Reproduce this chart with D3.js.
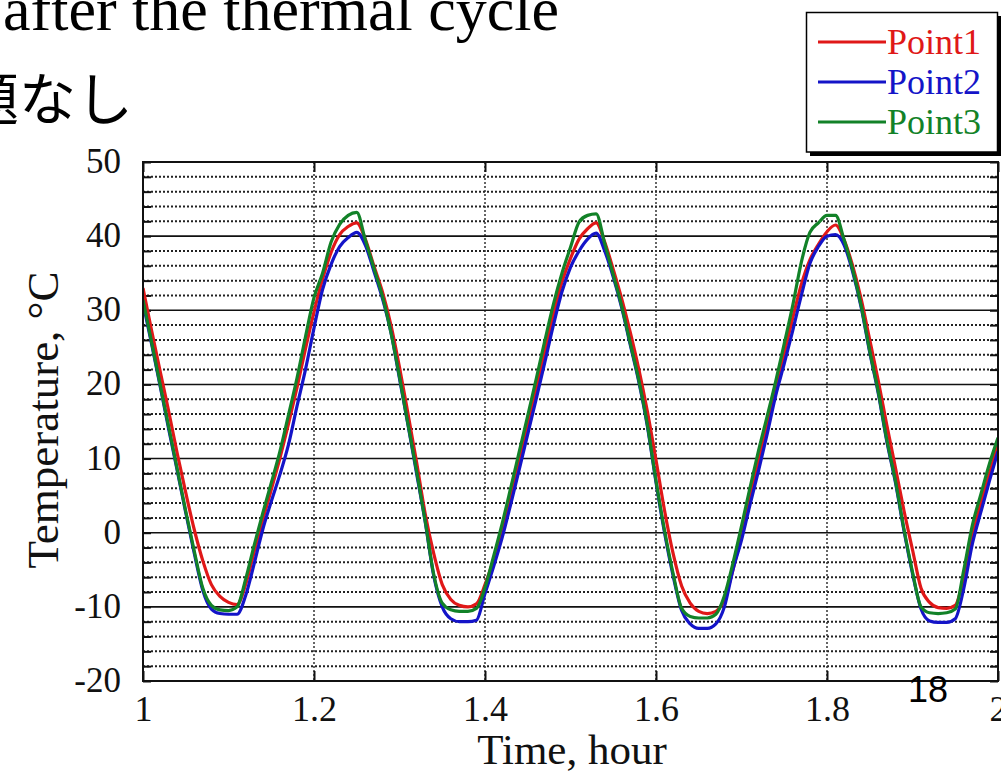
<!DOCTYPE html>
<html><head><meta charset="utf-8">
<script src="https://cdn.jsdelivr.net/npm/d3@7/dist/d3.min.js"></script>
<style>
html,body{margin:0;padding:0;background:#fff;overflow:hidden;}
svg{display:block;}
.serif{font-family:'Liberation Serif','Times New Roman',serif;}
</style>
</head><body>
<svg id="chart" width="1001" height="773"></svg>
<script>
// ---- data ----
const timeHours = [1.00,1.01,1.02,1.03,1.04,1.05,1.06,1.07,1.08,1.09,
1.10,1.11,1.12,1.13,1.14,1.15,1.16,1.17,1.18,1.19,
1.20,1.21,1.22,1.23,1.24,1.25,1.26,1.27,1.28,1.29,
1.30,1.31,1.32,1.33,1.34,1.35,1.36,1.37,1.38,1.39,
1.40,1.41,1.42,1.43,1.44,1.45,1.46,1.47,1.48,1.49,
1.50,1.51,1.52,1.53,1.54,1.55,1.56,1.57,1.58,1.59,
1.60,1.61,1.62,1.63,1.64,1.65,1.66,1.67,1.68,1.69,
1.70,1.71,1.72,1.73,1.74,1.75,1.76,1.77,1.78,1.79,
1.80,1.81,1.82,1.83,1.84,1.85,1.86,1.87,1.88,1.89,
1.90,1.91,1.92,1.93,1.94,1.95,1.96,1.97,1.98,1.99,2.00];

const point1 = [33.0,27.3,21.8,16.4,10.7,5.4,0.4,-3.8,-7.0,-8.6,
-9.4,-9.7,-7.0,-2.6,1.7,5.8,10.0,14.6,19.5,24.8,
29.8,34.2,37.8,40.2,41.3,41.8,39.6,36.0,32.5,28.0,
22.3,16.0,9.5,2.6,-2.8,-7.0,-9.0,-9.8,-10.0,-9.6,
-7.0,-3.6,0.5,5.0,9.8,14.6,19.5,24.5,29.4,33.8,
37.0,39.6,41.0,41.8,39.2,35.5,31.5,27.0,22.0,16.3,
9.8,3.0,-2.8,-7.2,-9.5,-10.6,-10.9,-10.6,-9.0,-5.0,
-0.2,4.9,9.9,14.6,19.3,24.2,29.0,33.5,36.8,38.9,
40.6,41.5,39.5,36.0,31.5,26.0,20.5,14.5,8.8,3.0,
-2.3,-7.5,-9.4,-10.1,-10.2,-9.8,-6.0,-0.5,4.0,8.0,12.0];

const point2 = [31.0,25.5,19.8,14.0,8.4,2.7,-2.8,-7.8,-10.3,-10.9,
-11.0,-11.0,-8.5,-4.2,0.4,4.2,7.8,11.8,17.0,22.0,
27.6,32.8,36.2,38.6,39.8,40.5,38.8,35.3,31.6,27.0,
20.8,14.5,8.0,1.5,-5.8,-10.0,-11.6,-12.0,-12.0,-11.8,
-8.2,-4.6,-0.7,3.8,8.5,13.3,18.1,23.0,28.0,32.5,
35.8,38.0,39.6,40.4,38.0,34.5,30.3,25.3,20.3,14.3,
6.8,0.0,-5.8,-10.5,-12.3,-12.9,-12.9,-12.3,-10.0,-5.0,
-1.0,3.8,8.4,13.3,18.5,22.8,27.3,32.0,36.3,38.6,
40.0,40.2,38.8,35.2,30.4,24.3,18.8,12.3,6.8,0.3,
-5.5,-10.3,-11.9,-12.1,-12.1,-11.6,-7.5,-1.5,2.8,7.0,11.0];

const point3 = [31.4,25.7,20.0,14.3,8.6,2.9,-2.5,-7.5,-9.8,-10.4,
-10.5,-10.0,-6.3,-1.7,2.6,6.7,10.9,15.8,20.8,26.4,
31.7,35.0,39.2,41.6,42.8,43.2,39.5,35.7,31.9,27.0,
21.0,14.6,8.3,1.6,-5.6,-9.5,-10.4,-10.6,-10.6,-10.2,
-7.4,-3.2,1.2,6.0,10.9,15.8,20.8,25.9,30.8,35.0,
38.5,41.9,42.8,43.0,39.0,34.8,30.5,25.5,20.5,14.5,
7.0,0.3,-5.5,-10.2,-11.3,-11.5,-11.5,-11.0,-8.5,-4.1,
0.9,6.1,11.1,15.7,20.4,25.5,30.7,36.5,40.5,41.8,
42.8,42.8,39.5,35.5,30.6,24.5,19.0,12.5,7.0,0.5,
-5.3,-10.0,-10.8,-10.9,-10.8,-10.3,-5.0,1.0,5.2,9.3,12.8];

const seriesNames = ["Point1","Point2","Point3"];
const seriesColors = ["#e01818","#1414c8","#128228"];
const xTicks = [1, 1.2, 1.4, 1.6, 1.8, 2];
const xTickLabels = ["1","1.2","1.4","1.6","1.8","2"];
const yMajor = [-20,-10,0,10,20,30,40,50];
const yTickLabels = ["-20","-10","0","10","20","30","40","50"];
const yMinor = [-18,-16,-14,-12,-8,-6,-4,-2,2,4,6,8,12,14,16,18,22,24,26,28,32,34,36,38,42,44,46,48];

// ---- layout ----
const svg = d3.select("#chart");
const L = 143, R = 998, T = 162, B = 681;
const x = d3.scaleLinear().domain([1, 2]).range([L, R]);
const y = d3.scaleLinear().domain([-20, 50]).range([B, T]);
const serif = "'Liberation Serif','Times New Roman',serif";

svg.append("rect").attr("width",1001).attr("height",773).attr("fill","#fff");

// titles (cropped slide)
svg.append("text").attr("x",559).attr("y",30).attr("text-anchor","end")
  .attr("class","serif").attr("font-size",62).attr("fill","#000")
  .text("after the thermal cycle");
svg.append("text").attr("x",133).attr("y",120).attr("text-anchor","end")
  .attr("font-family","'Noto Sans CJK JP',sans-serif").attr("font-size",57).attr("fill","#000")
  .text("問題なし");

const g = svg.append("g");

// minor horizontal dotted grid
g.selectAll("line.minor").data(yMinor).join("line")
  .attr("x1",L).attr("x2",R).attr("y1",d=>y(d)).attr("y2",d=>y(d))
  .attr("stroke","#222").attr("stroke-width",2).attr("stroke-dasharray","2,2");
// vertical dotted grid
g.selectAll("line.vgrid").data(xTicks.slice(1,-1)).join("line")
  .attr("x1",d=>x(d)).attr("x2",d=>x(d)).attr("y1",T).attr("y2",B)
  .attr("stroke","#333").attr("stroke-width",1.5).attr("stroke-dasharray","2,2");
// major horizontal solid grid
g.selectAll("line.major").data(yMajor).join("line")
  .attr("x1",L).attr("x2",R).attr("y1",d=>y(d)).attr("y2",d=>y(d))
  .attr("stroke","#111").attr("stroke-width",1.6);

// axes with inward ticks
const axL = svg.append("g").attr("transform",`translate(${L},0)`)
  .call(d3.axisLeft(y).tickValues(yMinor.concat(yMajor)).tickSize(-8).tickFormat(""));
const axR = svg.append("g").attr("transform",`translate(${R},0)`)
  .call(d3.axisRight(y).tickValues(yMinor.concat(yMajor)).tickSize(-8).tickFormat(""));
const axB = svg.append("g").attr("transform",`translate(0,${B})`)
  .call(d3.axisBottom(x).tickValues(xTicks).tickSize(-10).tickFormat(""));
const axT = svg.append("g").attr("transform",`translate(0,${T})`)
  .call(d3.axisTop(x).tickValues(xTicks).tickSize(-10).tickFormat(""));
[axL,axR,axB,axT].forEach(a=>{
  a.select(".domain").remove();
  a.selectAll(".tick line").attr("stroke","#111").attr("stroke-width",2);
});

// tick labels
const yLab = svg.append("g").attr("transform",`translate(${L-22},0)`)
  .call(d3.axisLeft(y).tickValues(yMajor).tickSize(0).tickFormat((d,i)=>yTickLabels[i]));
yLab.select(".domain").remove();
yLab.selectAll("text").attr("class","serif").attr("font-size",35).attr("fill","#111")
  .attr("dy","0.3em").attr("x",0);
const xLab = svg.append("g").attr("transform",`translate(0,${B+11})`)
  .call(d3.axisBottom(x).tickValues(xTicks).tickSize(0).tickFormat((d,i)=>xTickLabels[i]));
xLab.select(".domain").remove();
xLab.selectAll("text").attr("class","serif").attr("font-size",36).attr("fill","#111").attr("dy","0.71em");

// clip + data lines
svg.append("defs").append("clipPath").attr("id","clip")
  .append("rect").attr("x",L).attr("y",T).attr("width",R-L).attr("height",B-T);
const line = d3.line().x(d=>x(d[0])).y(d=>y(d[1])).curve(d3.curveMonotoneX);
const seriesData = [point1, point2, point3];
const lg = svg.append("g").attr("clip-path","url(#clip)");
seriesData.forEach((vals,i)=>{
  lg.append("path").datum(timeHours.map((t,j)=>[t, vals[j]]))
    .attr("d", line).attr("fill","none").attr("stroke",seriesColors[i])
    .attr("stroke-width",3.2).attr("stroke-linejoin","round");
});

// frame
svg.append("rect").attr("x",L).attr("y",T).attr("width",R-L).attr("height",B-T)
  .attr("fill","none").attr("stroke","#111").attr("stroke-width",2);

// axis titles
svg.append("text").attr("x",572).attr("y",764).attr("text-anchor","middle")
  .attr("class","serif").attr("font-size",43).attr("fill","#111").text("Time, hour");
svg.append("text").attr("transform","translate(58,420) rotate(-90)").attr("text-anchor","middle")
  .attr("class","serif").attr("font-size",45).attr("fill","#111").text("Temperature, °C");

// legend
const leg = svg.append("g");
leg.append("rect").attr("x",810).attr("y",16).attr("width",191).attr("height",140).attr("fill","#000");
leg.append("rect").attr("x",806.5).attr("y",12.5).attr("width",191).attr("height",139.5)
  .attr("fill","#fff").attr("stroke","#000").attr("stroke-width",1.5);
seriesNames.forEach((name,i)=>{
  const yy = 42 + i*40;
  leg.append("line").attr("x1",818).attr("x2",886).attr("y1",yy).attr("y2",yy)
    .attr("stroke",seriesColors[i]).attr("stroke-width",3);
  leg.append("text").attr("x",887).attr("y",yy+12).attr("class","serif")
    .attr("font-size",36).attr("fill",seriesColors[i]).text(name);
});

// slide page number
svg.append("text").attr("x",928).attr("y",702).attr("text-anchor","middle")
  .attr("font-family","'Liberation Sans',Arial,sans-serif").attr("font-size",36).attr("fill","#000").text("18");
</script>
</body></html>
